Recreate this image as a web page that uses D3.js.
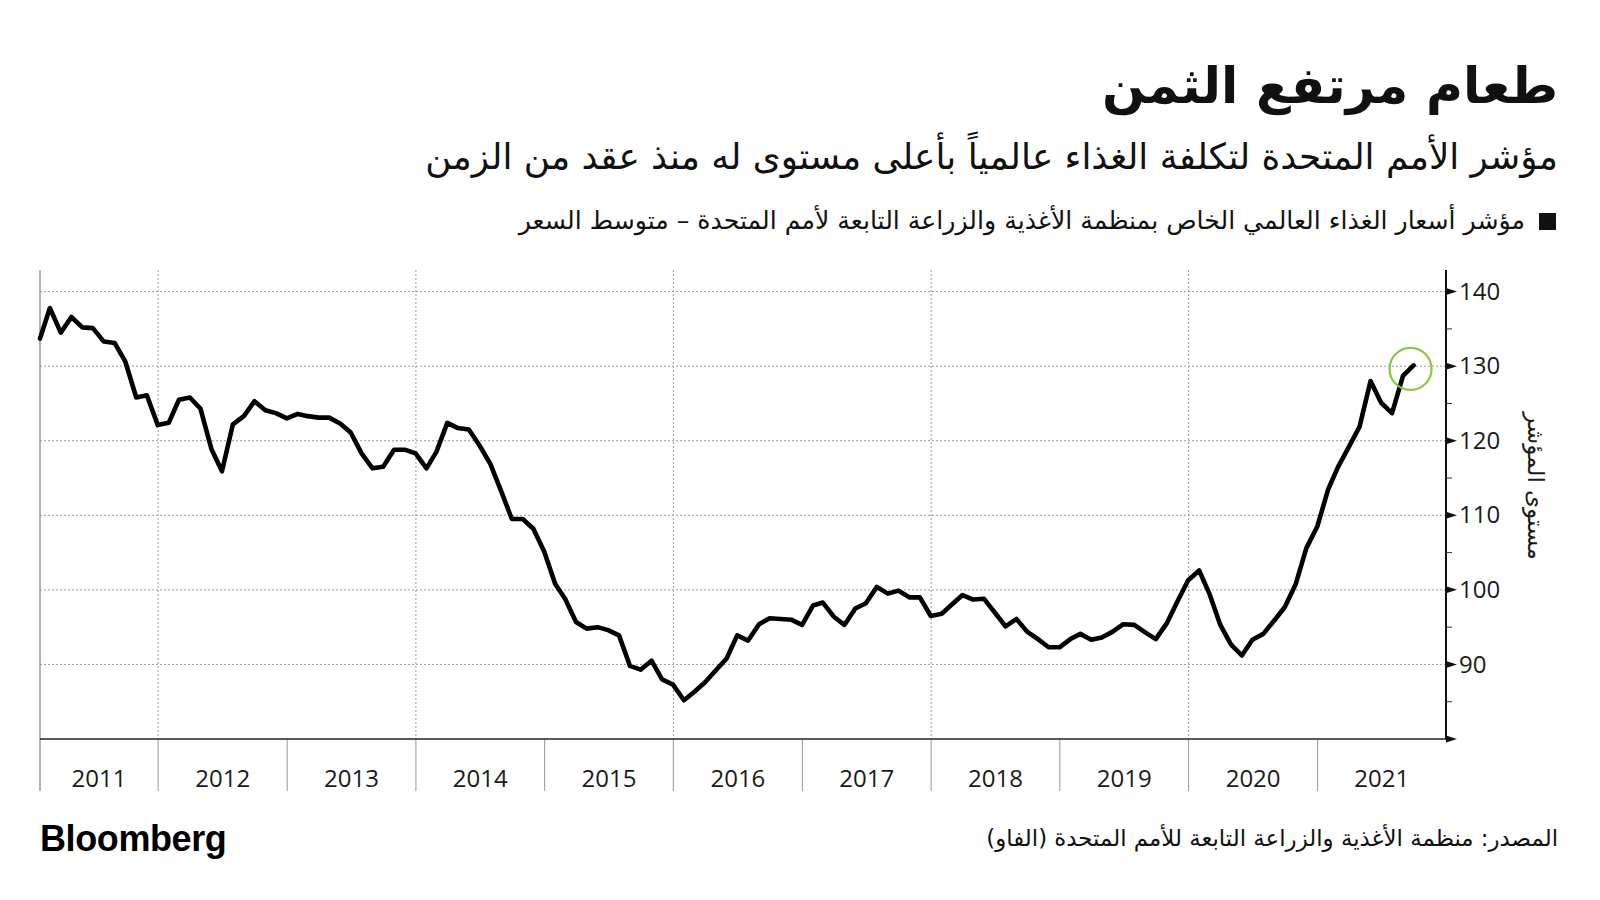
<!DOCTYPE html>
<html><head><meta charset="utf-8">
<script src="https://cdn.jsdelivr.net/npm/d3@7"></script>
<style>
html,body{margin:0;padding:0;background:#fff;}
svg{display:block;}
.ar{font-family:"DejaVu Sans",sans-serif;}
.num{font-family:"Open Sans","DejaVu Sans",sans-serif;}
</style></head>
<body><svg id="chart" width="1600" height="900"></svg>
<script>
// ---- Data (FAO Food Price Index, monthly, Jan 2011 – Sep 2021) ----
const startYear = 2011;
const v2011 = [133.7,137.8,134.5,136.6,135.2,135.1,133.3,133.1,130.6,125.8,126.1,122.1];
const v2012 = [122.4,125.5,125.8,124.3,118.9,115.9,122.2,123.3,125.3,124.1,123.7,123.0];
const v2013 = [123.6,123.3,123.1,123.1,122.3,121.1,118.3,116.3,116.5,118.8,118.8,118.3];
const v2014 = [116.3,118.5,122.4,121.7,121.5,119.4,116.9,113.2,109.5,109.5,108.2,105.1];
const v2015 = [100.8,98.8,95.7,94.8,95.0,94.6,93.9,89.8,89.3,90.5,88.0,87.3];
const v2016 = [85.2,86.3,87.6,89.2,90.8,93.9,93.2,95.4,96.2,96.1,96.0,95.3];
const v2017 = [97.9,98.3,96.4,95.3,97.5,98.2,100.4,99.5,99.9,99.0,99.0,96.5];
const v2018 = [96.8,98.0,99.3,98.7,98.8,97.0,95.1,96.1,94.4,93.4,92.3,92.3];
const v2019 = [93.4,94.1,93.3,93.6,94.4,95.4,95.3,94.3,93.4,95.5,98.4,101.3];
const v2020 = [102.6,99.5,95.3,92.7,91.2,93.3,94.1,95.9,97.7,100.8,105.6,108.5];
const v2021 = [113.5,116.5,119.2,121.9,128.0,125.1,123.7,128.7,130.1];
const yearLabels = ["2011","2012","2013","2014","2015","2016","2017","2018","2019","2020","2021"];
const yTicks = [80,90,100,110,120,130,140];
const yMinorTicks = [85,95,105,115,125,135];
const gridYears = [2012,2014,2016,2018,2020];

const titleText = "طعام مرتفع الثمن";
const subtitleText = "مؤشر الأمم المتحدة لتكلفة الغذاء عالمياً بأعلى مستوى له منذ عقد من الزمن";
const legendText = "مؤشر أسعار الغذاء العالمي الخاص بمنظمة الأغذية والزراعة التابعة لأمم المتحدة – متوسط السعر";
const yAxisTitle = "مستوى المؤشر";
const sourceText = "المصدر: منظمة الأغذية والزراعة التابعة للأمم المتحدة (الفاو)";

const allValues = [].concat(v2011,v2012,v2013,v2014,v2015,v2016,v2017,v2018,v2019,v2020,v2021);
// month-end dates
const data = allValues.map((v,i)=>({date:new Date(startYear, 1+i, 0), value:v}));

// ---- Layout ----
const svg = d3.select("#chart");
const L = 40, R = 1446, T = 270, B = 739, sepBottom = 791;
const x = d3.scaleTime().domain([new Date(2011,0,31), new Date(2021,11,31)]).range([L,R]);
const y = d3.scaleLinear().domain([80,142.9]).range([B,T]);

function fit(sel, target){
  const w = sel.node().getComputedTextLength();
  const fs = parseFloat(sel.attr("font-size"));
  sel.attr("font-size", fs*target/w);
}
function arText(xr, yb, fs, txt, bold){
  const t = svg.append("text").attr("class","ar").attr("x",xr).attr("y",yb)
    .attr("text-anchor","start").attr("direction","rtl").style("direction","rtl")
    .attr("font-size",fs).attr("fill","#111").text(txt);
  if (bold) t.attr("font-weight","bold");
  return t;
}

// Title
fit(arText(1558,103,58,titleText,true), 456);
fit(arText(1558,169,30,subtitleText,false), 1133);
// legend
svg.append("rect").attr("x",1539).attr("y",213).attr("width",17).attr("height",17).attr("fill","#111");
fit(arText(1525,229,22,legendText,false), 1007);

// Horizontal grid
svg.append("g").selectAll("line").data(yTicks.filter(d=>d>80)).join("line")
  .attr("x1",L).attr("x2",R).attr("y1",d=>y(d)).attr("y2",d=>y(d))
  .attr("stroke","#9a9a9a").attr("stroke-width",1).attr("stroke-dasharray","2,2");
// Vertical grid (every 2 years)
svg.append("g").selectAll("line").data(gridYears).join("line")
  .attr("x1",d=>x(new Date(d,0,1))).attr("x2",d=>x(new Date(d,0,1)))
  .attr("y1",T).attr("y2",B)
  .attr("stroke","#9a9a9a").attr("stroke-width",1).attr("stroke-dasharray","2,2");
// year separators below axis
const sepYears = d3.range(2012,2022);
svg.append("g").selectAll("line").data(sepYears).join("line")
  .attr("x1",d=>x(new Date(d,0,1))).attr("x2",d=>x(new Date(d,0,1)))
  .attr("y1",B).attr("y2",sepBottom).attr("stroke","#999").attr("stroke-width",1);
// left edge line
svg.append("line").attr("x1",L).attr("x2",L).attr("y1",T).attr("y2",sepBottom)
  .attr("stroke","#999").attr("stroke-width",1.5);
// year labels
const yearStarts = yearLabels.map((d,i)=> i===0 ? L : x(new Date(+d,0,1)));
const yearEnds = yearLabels.map((d,i)=> i===yearLabels.length-1 ? R : x(new Date(+d+1,0,1)));
svg.append("g").selectAll("text").data(yearLabels).join("text").attr("class","num")
  .attr("x",(d,i)=>(yearStarts[i]+yearEnds[i])/2).attr("y",787)
  .attr("text-anchor","middle").attr("font-size",24).attr("fill","#1a1a1a").text(d=>d);

// x axis line
svg.append("line").attr("x1",L).attr("x2",R).attr("y1",B).attr("y2",B)
  .attr("stroke","#222").attr("stroke-width",1.5);

// right axis
const yAxis = d3.axisRight(y).tickValues(yTicks).tickSize(0).tickPadding(13)
  .tickFormat(d=> d===80 ? "" : d);
const gY = svg.append("g").attr("transform",`translate(${R},0)`).call(yAxis);
gY.select(".domain").remove();
gY.selectAll("text").attr("class","num").attr("font-size",24).attr("fill","#1a1a1a")
  .attr("font-family",null);
svg.append("line").attr("x1",R).attr("x2",R).attr("y1",T).attr("y2",B)
  .attr("stroke","#111").attr("stroke-width",2);
svg.append("g").selectAll("path").data(yTicks).join("path")
  .attr("d",d=>`M${R},${y(d)-3.5}L${R+11},${y(d)}L${R},${y(d)+3.5}Z`).attr("fill","#111");
svg.append("g").selectAll("line").data(yMinorTicks).join("line")
  .attr("x1",R).attr("x2",R+6).attr("y1",d=>y(d)).attr("y2",d=>y(d))
  .attr("stroke","#333").attr("stroke-width",1);
// y axis title
svg.append("text").attr("class","ar").attr("transform",`translate(1534,486) rotate(90)`)
  .attr("text-anchor","middle").attr("dominant-baseline","middle")
  .attr("font-size",23).attr("fill","#1a1a1a").text(yAxisTitle);

// line
const line = d3.line().x(d=>x(d.date)).y(d=>y(d.value));
svg.append("path").datum(data).attr("d",line).attr("fill","none")
  .attr("stroke","#000").attr("stroke-width",4.6).attr("stroke-linejoin","round").attr("stroke-linecap","round");

// highlight circle at last point
const last = data[data.length-1];
svg.append("circle").attr("cx",x(last.date)-3).attr("cy",y(last.value)+3.5).attr("r",21)
  .attr("fill","none").attr("stroke","#8cc63f").attr("stroke-width",2.2);

// footer
svg.append("text").attr("x",40).attr("y",851).attr("font-family","'Liberation Sans',Arial,sans-serif")
  .attr("font-weight","bold").attr("font-size",36).attr("letter-spacing",-0.4).attr("fill","#000").text("Bloomberg");
fit(arText(1558,846,22,sourceText,false), 572);
</script></body></html>
